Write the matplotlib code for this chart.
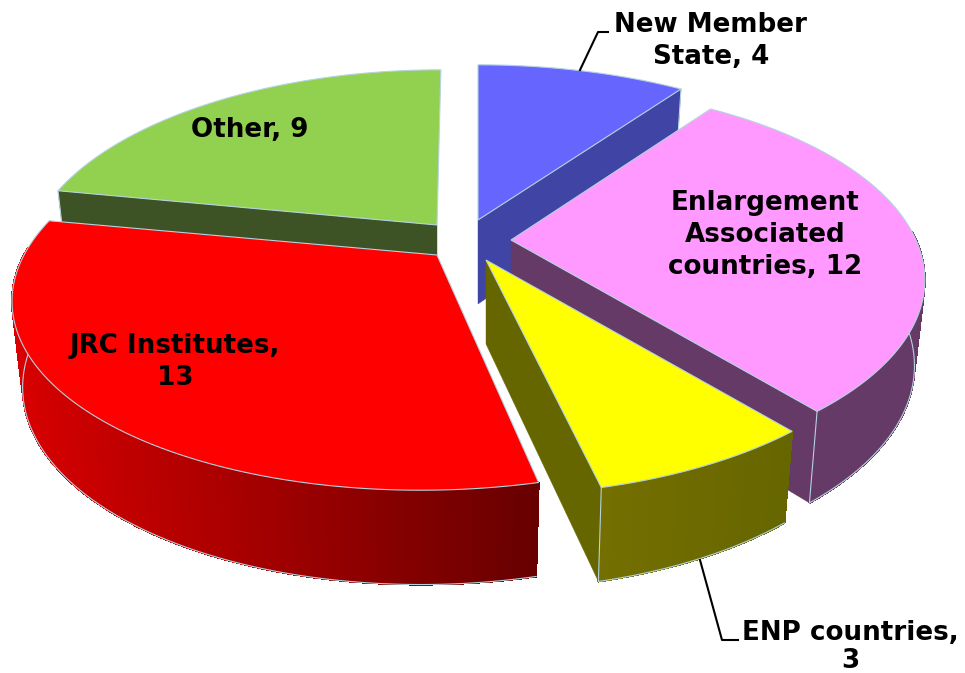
import matplotlib
matplotlib.use('Agg')
import matplotlib.pyplot as plt
from matplotlib.patches import Polygon
import numpy as np

categories = ['New Member State', 'Enlargement Associated countries',
              'ENP countries', 'JRC Institutes', 'Other']
values = [4, 12, 3, 13, 9]

top_colors = ['#6666ff', '#ff99ff', '#ffff00', '#ff0000', '#92d050']
wall_colors = ['#4044a4', '#663a66', '#666600', '#d80000', '#3d5225']
# the curved wall fades from left to right
left_colors = ['#4044a4', '#663a66', '#746f00', '#d80000', '#3d5225']
right_colors = ['#4044a4', '#663a66', '#666600', '#680000', '#3d5225']
edge = '#b5d3e0'

# where the tip of each exploded slice sits, in pixels
tips = [(478, 220), (511, 240), (486, 260), (437, 255), (437, 225)]
radii = [412, 405, 405, 413, 402]
skews = [0, 0, 0, -0.07, -0.025]
draw_order = [4, 0, 1, 3, 2]

K = 187
P = 0.205


def project(t, r, skew):
    # t is clockwise from 12 o'clock, back of the pie is smaller
    u, v = np.sin(t), np.cos(t)
    s = 1 / (1 + P * v)
    y = -K * v * s
    return r * u * s + skew * y, y, s


def mix(c1, c2, f):
    a = np.array(matplotlib.colors.to_rgb(c1))
    b = np.array(matplotlib.colors.to_rgb(c2))
    return tuple(a + (b - a) * f)


def lower(x, y, s):
    return x * 0.975, y + 84 + (s - 1) * 40


fig = plt.figure(figsize=(9.65, 6.73), dpi=100)
ax = fig.add_axes([0, 0, 1, 1])
ax.set_xlim(0, 965)
ax.set_ylim(673, 0)
ax.axis('off')

fracs = np.array(values) / sum(values)
stops = np.concatenate([[0], np.cumsum(fracs)]) * 2 * np.pi

for z, i in enumerate(draw_order):
    cx, cy = tips[i]
    t = np.linspace(stops[i], stops[i + 1], 120)
    x, y, s = project(t, radii[i], skews[i])
    bx, by = lower(x, y, s)
    z = z + 1
    tip_low = 84

    # outer wall, shaded strip by strip, only the part facing us
    front = np.where(np.cos(t) < 0.05)[0]
    if len(front):
        x0, x1 = x[front].min(), x[front].max()
        for k in front[:-1]:
            c = mix(left_colors[i], right_colors[i], (x[k] - x0) / (x1 - x0))
            pts = [(cx + x[k], cy + y[k]), (cx + x[k + 1], cy + y[k + 1]),
                   (cx + bx[k + 1], cy + by[k + 1]), (cx + bx[k], cy + by[k])]
            ax.add_patch(Polygon(pts, facecolor=c, edgecolor=c, lw=0.8, antialiased=False, zorder=z))
        ax.plot(cx + bx[front], cy + by[front], color=edge, lw=0.8, zorder=z)

    # flat side walls, only when they turn towards us
    for j, a in [(0, stops[i]), (-1, stops[i + 1])]:
        facing = np.sin(a) < -0.01 if j == 0 else np.sin(a) > 0.01
        if not facing:
            continue
        c = wall_colors[i]
        pts = [(cx, cy), (cx + x[j], cy + y[j]), (cx + bx[j], cy + by[j]), (cx, cy + tip_low)]
        ax.add_patch(Polygon(pts, facecolor=c, edgecolor=c, lw=0.3, zorder=z))
        ax.plot([cx + x[j], cx + bx[j]], [cy + y[j], cy + by[j]], color=edge, lw=0.8, zorder=z)

    # top face
    pts = np.column_stack([np.r_[cx, cx + x], np.r_[cy, cy + y]])
    ax.add_patch(Polygon(pts, facecolor=top_colors[i], edgecolor=edge, lw=0.8, zorder=z))

# leader lines
ax.plot([580, 598, 608], [70, 32, 32], color='black', lw=1.5, zorder=10)
ax.plot([700, 722, 738], [560, 640, 640], color='black', lw=1.5, zorder=10)

font = dict(family='DejaVu Sans', fontweight='bold', fontsize=18.8, color='black',
            ha='center', va='center', linespacing=1.3, zorder=11)
ax.text(711, 41, f'New Member\nState, {values[0]}', **font)
ax.text(765, 235, f'Enlargement\nAssociated\ncountries, {values[1]}', **font)
ax.text(850, 633, 'ENP countries,', **font)
ax.text(850, 661, f'{values[2]}', **font)
ax.text(175, 362, f'JRC Institutes,\n{values[3]}', **font)
ax.text(250, 130, f'Other, {values[4]}', **font)

fig.savefig('out.png', dpi=100)
